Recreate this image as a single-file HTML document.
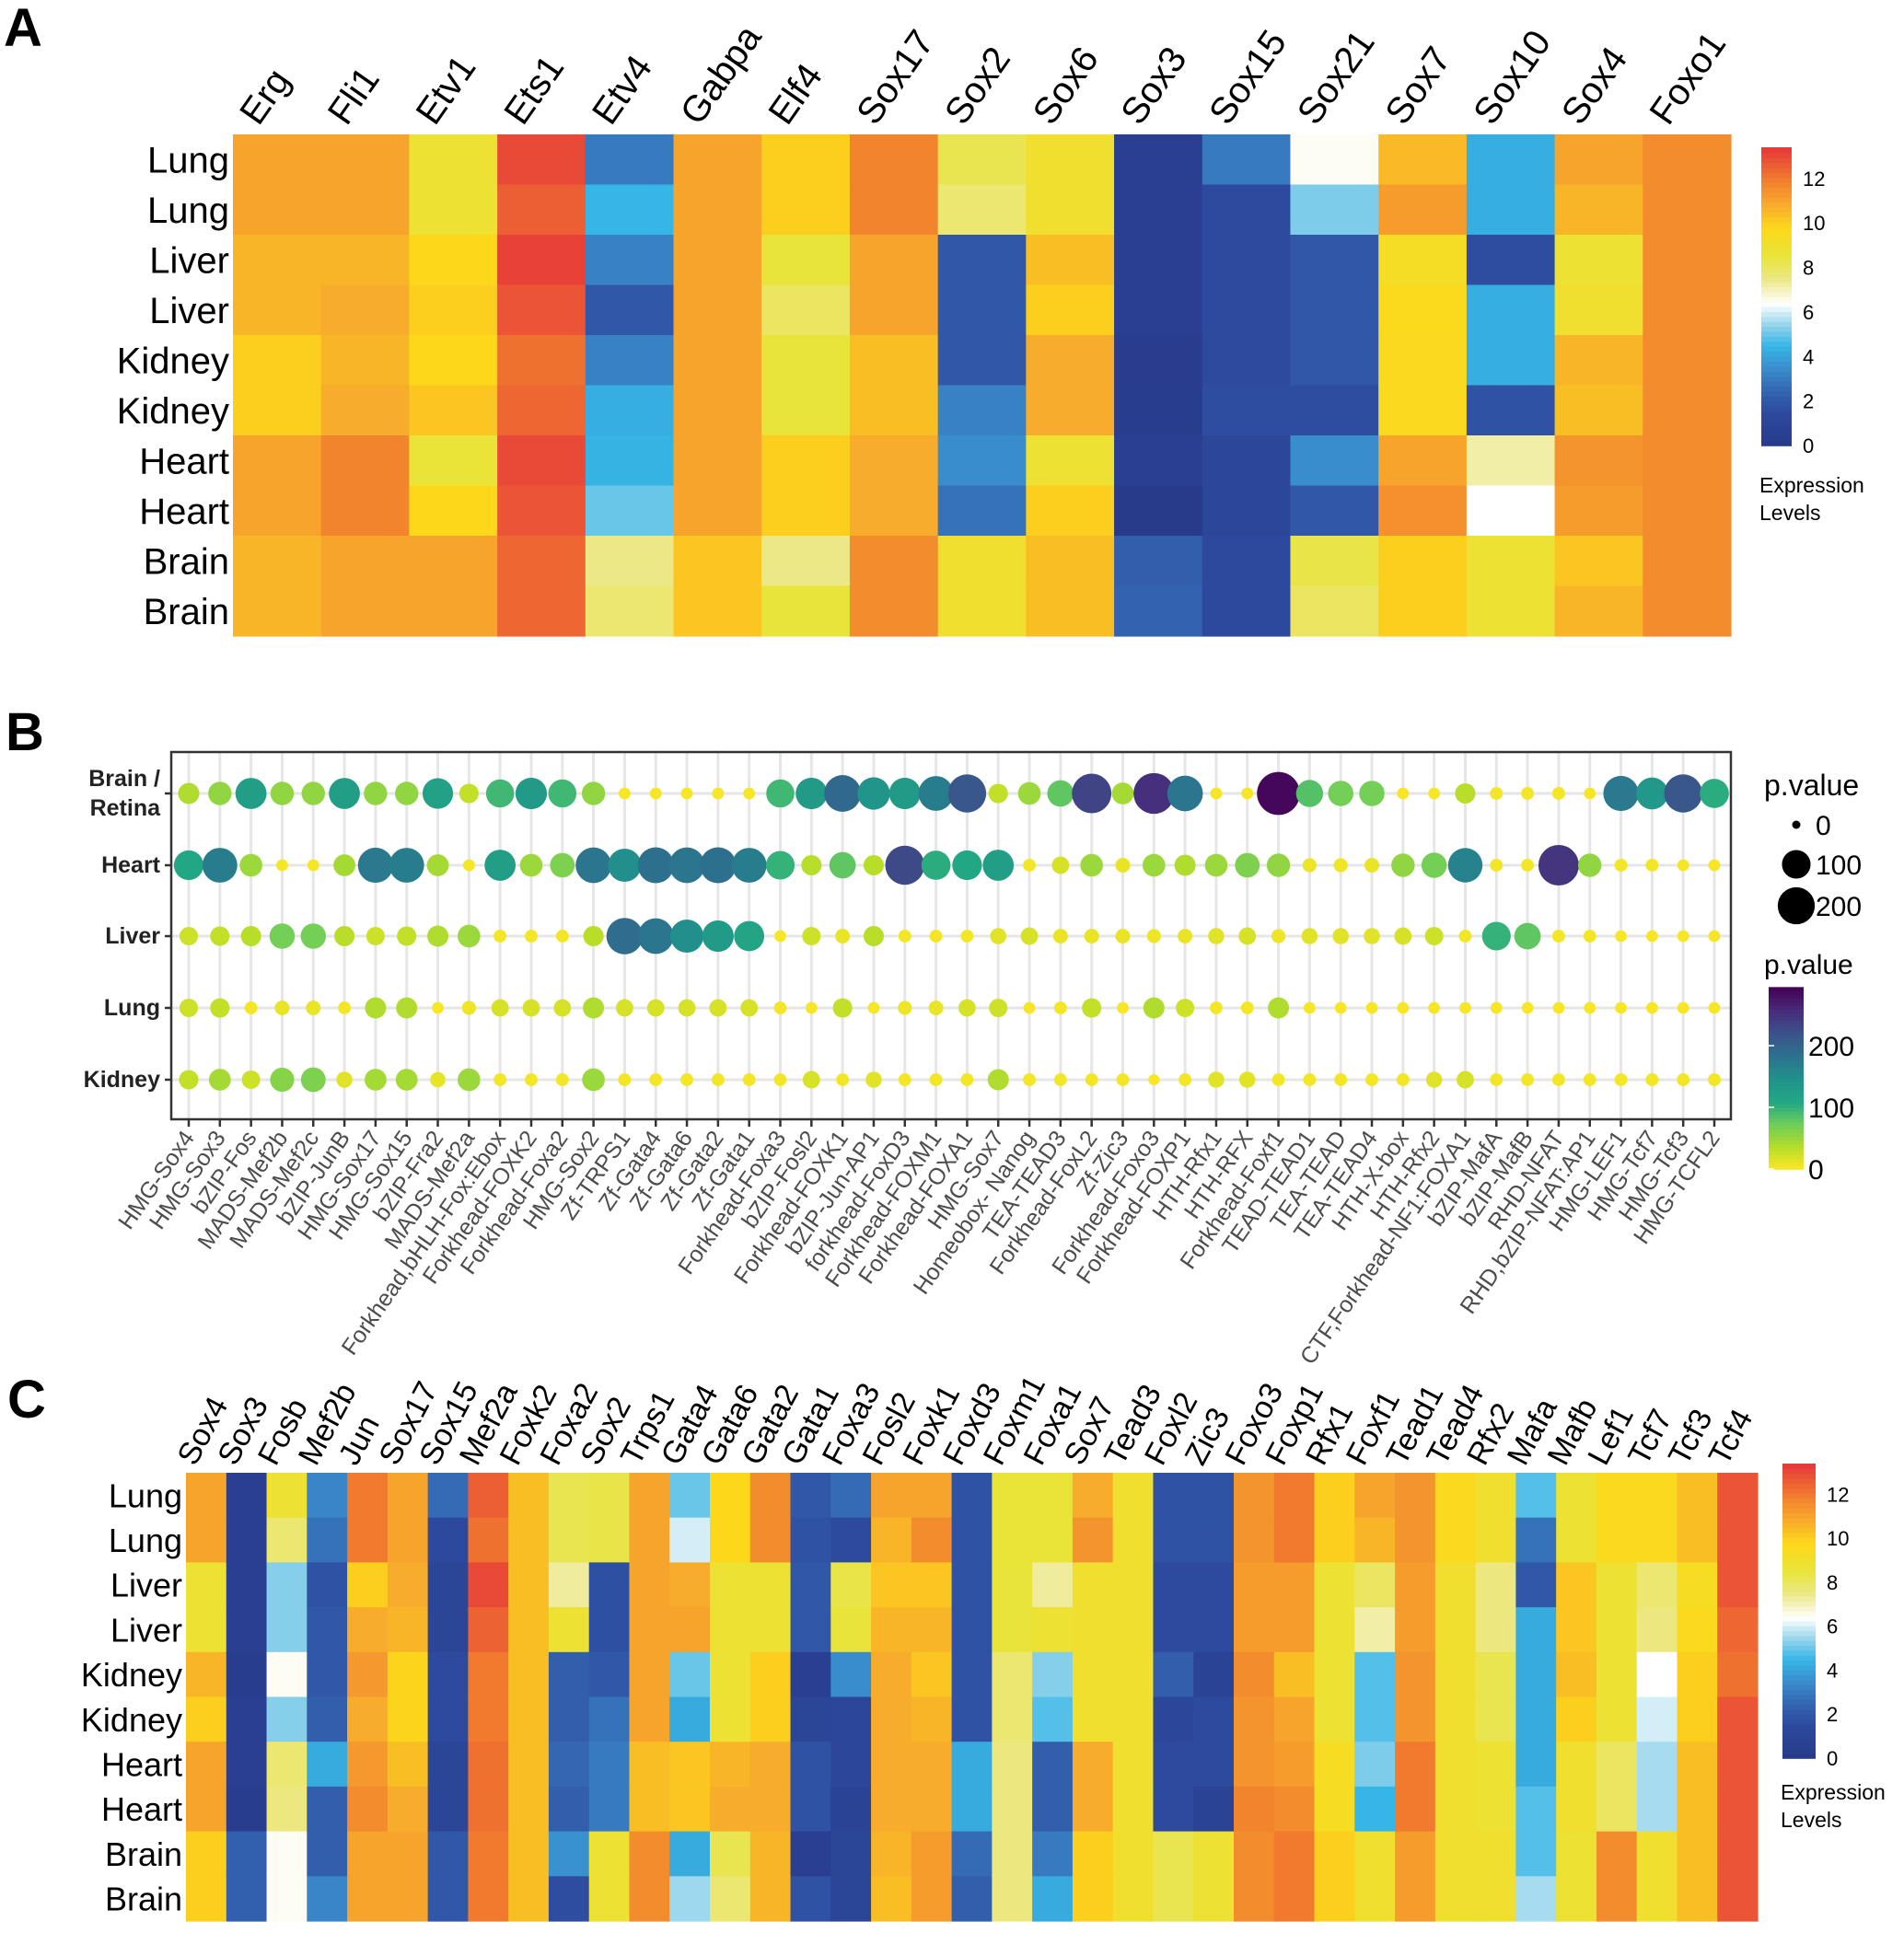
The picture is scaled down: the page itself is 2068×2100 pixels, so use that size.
<!DOCTYPE html>
<html><head><meta charset="utf-8"><style>
html,body{margin:0;padding:0;background:#fff;}
svg{display:block;font-family:"Liberation Sans",Arial,sans-serif;}
</style></head><body>
<svg id="fig" width="2068" height="2100" viewBox="0 0 2068 2100" xmlns="http://www.w3.org/2000/svg">
<rect x="0" y="0" width="2068" height="2100" fill="#fff"/>
<text x="4" y="50" font-size="58" font-weight="bold">A</text>
<text x="6" y="815" font-size="58" font-weight="bold">B</text>
<text x="8" y="1540" font-size="58" font-weight="bold">C</text>
<g id="panelA"></g>
<g id="panelB"></g>
<g id="panelC"></g>
</svg>
<script>
// ---------- Panel A data ----------
const rowsA = ["Lung","Lung","Liver","Liver","Kidney","Kidney","Heart","Heart","Brain","Brain"];
const colsA = ["Erg","Fli1","Etv1","Ets1","Etv4","Gabpa","Elf4","Sox17","Sox2","Sox6","Sox3","Sox15","Sox21","Sox7","Sox10","Sox4","Foxo1"];
const valuesA = [
[11,11,10.6,10.6,10,10,11,11,10.6,10.6],
[11,11,10.6,10.8,10.6,10.8,11.8,11.8,11,11],
[8.8,8.8,9.8,10,9.8,10.2,8.6,9.8,11,11],
[13,12.6,13.2,12.8,12.2,12.4,13,12.8,12.4,12.4],
[3,4.5,3.2,2,3.2,4.3,4.4,5,7.5,7.8],
[11,11,11,11,11,11,11,11,10.2,10.2],
[10,10,8.5,8,8.5,8.5,10,10,7.5,8.5],
[11.8,11.8,11,11,10.4,10.4,10.8,10.8,11.6,11.6],
[8.2,7.8,2,2,2,3.2,3.5,2.8,9,9],
[9,9,10.4,10,10.8,10.8,8.8,10,10.4,10.4],
[0.5,0.5,0.5,0.5,0.2,0.3,0.5,0.1,2.2,2.4],
[3,1.5,1.5,1.5,1.5,1.6,1.2,1.2,1.4,1.4],
[6.5,5.2,2,2,2,1.6,3.5,2,8.3,8],
[10.5,11.2,9.3,9.7,9.6,9.6,11,11.5,10,10],
[4.3,4.3,1.6,4.3,4.3,1.8,7.2,6.4,8.8,8.8],
[11,10.6,8.8,9,10.6,10.4,11.4,11.2,10.2,10.6],
[11.6,11.6,11.6,11.6,11.6,11.6,11.6,11.6,11.6,11.6]];
const ticksExpr = [0,2,4,6,8,10,12];

// ---------- Panel B data ----------
const rowsB = ["Brain /|Retina","Heart","Liver","Lung","Kidney"];
const motifsB = ["HMG-Sox4","HMG-Sox3","bZIP-Fos","MADS-Mef2b","MADS-Mef2c","bZIP-JunB","HMG-Sox17","HMG-Sox15","bZIP-Fra2","MADS-Mef2a","Forkhead,bHLH-Fox:Ebox","Forkhead-FOXK2","Forkhead-Foxa2","HMG-Sox2","Zf-TRPS1","Zf-Gata4","Zf-Gata6","Zf-Gata2","Zf-Gata1","Forkhead-Foxa3","bZIP-Fosl2","Forkhead-FOXK1","bZIP-Jun-AP1","forkhead-FoxD3","Forkhead-FOXM1","Forkhead-FOXA1","HMG-Sox7","Homeobox- Nanog","TEA-TEAD3","Forkhead-FoxL2","Zf-Zic3","Forkhead-Foxo3","Forkhead-FOXP1","HTH-Rfx1","HTH-RFX","Forkhead-Foxf1","TEAD-TEAD1","TEA-TEAD","TEA-TEAD4","HTH-X-box","HTH-Rfx2","CTF,Forkhead-NF1:FOXA1","bZIP-MafA","bZIP-MafB","RHD-NFAT","RHD,bZIP-NFAT:AP1","HMG-LEF1","HMG-Tcf7","HMG-Tcf3","HMG-TCFL2"];
const pBrain = [40,55,125,55,55,125,55,55,120,30,95,130,95,55,3,3,3,3,3,95,130,195,140,130,170,215,30,50,80,235,45,255,180,3,3,290,85,70,70,3,3,35,5,5,5,3,175,135,215,105];
const pHeart = [110,170,50,3,3,45,175,170,45,3,125,50,65,180,150,185,180,185,170,100,35,80,35,230,105,110,125,5,20,50,10,50,40,50,65,55,8,8,10,55,70,165,5,5,250,55,5,5,3,3];
const pLiver = [25,30,35,70,70,35,25,30,40,50,5,5,5,35,190,180,150,130,115,3,25,10,35,5,5,5,15,20,10,10,10,8,10,15,20,8,15,15,15,20,25,5,100,80,5,5,3,3,3,3];
const pLung = [25,30,5,10,10,5,40,40,3,8,20,20,20,40,20,20,20,20,20,5,3,30,3,8,10,20,25,3,5,30,3,40,25,5,5,40,3,3,3,3,3,3,3,3,3,3,3,3,3,3];
const pKidney = [30,45,25,60,65,15,45,45,12,50,5,5,5,50,5,5,5,5,5,5,20,5,15,5,5,5,40,5,5,5,5,2,5,15,15,5,5,5,5,5,15,20,5,5,5,5,5,5,5,5];
const sizeLegendVals = [0,100,200];
const colorTicksB = [0,100,200];

// ---------- Panel C data ----------
const rowsC = ["Lung","Lung","Liver","Liver","Kidney","Kidney","Heart","Heart","Brain","Brain"];
const colsC = ["Sox4","Sox3","Fosb","Mef2b","Jun","Sox17","Sox15","Mef2a","Foxk2","Foxa2","Sox2","Trps1","Gata4","Gata6","Gata2","Gata1","Foxa3","Fosl2","Foxk1","Foxd3","Foxm1","Foxa1","Sox7","Tead3","Foxl2","Zic3","Foxo3","Foxp1","Rfx1","Foxf1","Tead1","Tead4","Rfx2","Mafa","Mafb","Lef1","Tcf7","Tcf3","Tcf4"];
const valuesC = [
[11,11,8.8,8.8,10.6,10,11,11,10,10],
[0.5,0.5,0.5,0.5,0.3,0.5,0.5,0.3,2.3,2.3],
[8.8,7.8,5.3,5.3,6.5,5.3,7.8,7.6,6.5,6.5],
[3.3,2.8,1.8,2,2,2.2,4.2,2.2,2.2,3.3],
[12,12,10,10.8,11.3,10.8,11.3,11.6,11,11],
[11,11,10.8,10.6,9.9,9.9,10.4,10.8,11,11],
[2.6,1.4,1,1,1.5,1.5,1,1,2,2],
[12.6,12.2,13,12.5,12,12,12.2,12.2,12,12],
[10.4,10.4,10.4,10.4,10.4,10.4,10.4,10.4,10.4,10.4],
[8.2,8.2,7.3,8.8,2.2,2.2,2.5,2.2,3.6,1.6],
[8.3,8.3,1.7,1.7,2,2.8,3,3,8.8,8.8],
[11,11,11,11,11,11,10.4,10.4,11.6,11.6],
[5,6,10.8,11,5,4.2,10.2,10.2,4.2,5.5],
[9.8,9.8,8.8,8.8,8.8,8.8,10.6,10.8,8.2,7.8],
[11.6,11.6,8.8,8.8,10,10,10.8,10.8,10.6,10.6],
[2,1.8,2,2,0.5,1,1.8,1.8,0.5,1.8],
[2.6,1.5,8.3,8.5,3.5,1.2,1.2,0.8,1,1],
[11,10.6,10.2,10.6,10.8,10.8,10.8,10.8,10.6,10.4],
[11,11.6,10.2,10.6,10.2,10.6,10.8,10.8,11.2,11.2],
[1.8,1.8,1.8,1.8,1.8,1.8,4.2,4.2,2.6,2.2],
[8.6,8.6,8.5,8.5,7.8,7.8,7.6,7.6,7.6,7.6],
[8.6,8.6,7.3,8.8,5.3,4.8,2.2,2.2,3,4.2],
[10.8,11.4,9,9,9,9,10.8,10.8,10,10],
[9,9,9,9,9,9,9,9,9,9],
[1.8,1.8,1.5,1.5,2.2,1.2,1.5,1.5,8.2,8.2],
[1.8,1.8,1.5,1.5,0.8,1.5,1.5,0.8,8.8,8.8],
[11.4,11.4,11.2,11.2,11.6,11.4,11.4,11.8,11.6,11.6],
[12,12,11.2,11.2,10.4,11,11.2,11.6,12,12],
[10,10,8.8,8.8,8.8,8.8,9.4,9.4,10,10],
[11,10.6,8,7.2,4.8,4.8,5.2,4.5,9,9],
[11.4,11.4,11.2,11.2,11.4,11.4,12,12,11.2,11.2],
[9.6,9.6,9,9,9,9,9,9,9,9],
[9,9,7.6,7.6,8.2,8.2,8.8,8.8,9,9],
[4.8,2.8,2,4.2,4.2,4.2,4.2,4.8,4.8,5.6],
[8.8,8.8,10.2,10.2,10.4,10,9,9,8.8,8.8],
[9.6,9.6,8.8,8.8,8.8,8.8,8,8,11.6,11.6],
[9.6,9.6,7.8,7.6,6.4,6,5.6,5.6,9,9],
[10.4,10.4,9.4,9.6,10,10,10.4,10.4,10.4,10.4],
[12.8,12.8,12.8,12.4,12.2,12.8,12.8,12.8,12.8,12.8]];

// ---------- helpers ----------
const NS = "http://www.w3.org/2000/svg";
function mk(tag, attrs, parent){const e=document.createElementNS(NS,tag);for(const k in attrs)e.setAttribute(k,attrs[k]);parent.appendChild(e);return e;}
function hex(h){return [parseInt(h.slice(1,3),16),parseInt(h.slice(3,5),16),parseInt(h.slice(5,7),16)];}
function interp(stops,v){
  if(v<=stops[0][0])return stops[0][1];
  for(let i=1;i<stops.length;i++){if(v<=stops[i][0]){const a=stops[i-1],b=stops[i];const t=(v-a[0])/(b[0]-a[0]);const ca=hex(a[1]),cb=hex(b[1]);return "rgb("+ca.map((c,j)=>Math.round(c+(cb[j]-c)*t)).join(",")+")";}}
  return stops[stops.length-1][1];
}
const exprStops=[[0,"#283a8a"],[1.5,"#2d4a9e"],[2.5,"#3466b2"],[3.5,"#3a8dcc"],[4.5,"#36b6e6"],[5.3,"#86cfea"],[6.4,"#ffffff"],[7.5,"#ece887"],[8.5,"#e8e43a"],[9.8,"#fdd81a"],[10.8,"#f8ac2c"],[11.8,"#f2842d"],[13.4,"#e6373a"]];
function expColor(v){return interp(exprStops,v);}
const virStops=[[0,"#fde725"],[0.12,"#b8de29"],[0.25,"#6ccd5a"],[0.37,"#22a884"],[0.5,"#21918c"],[0.62,"#2c728e"],[0.75,"#3b528b"],[0.87,"#472d7b"],[1,"#440154"]];
const PMAX=295;
function vir(v){return interp(virStops,Math.min(1,v/PMAX));}
function rad(v){return 4.5+19*Math.sqrt(Math.max(0,v)/PMAX);}

// ---------- heatmap builder ----------
function heatmap(g, rows, cols, vals, box, rowFont, colFont, colAngle, colDx, colY, cbar, prefix){
  const cw=(box.x1-box.x0)/cols.length, rh=(box.y1-box.y0)/rows.length;
  const xS=i=>box.x0+i*cw, yS=j=>box.y0+j*rh;
  cols.forEach((c,i)=>{
    vals[i].forEach((v,j)=>{
      const r=mk("rect",{x:xS(i).toFixed(2),y:yS(j).toFixed(2),width:(cw+0.6).toFixed(2),height:(rh+0.6).toFixed(2),fill:expColor(v)},g);
      
      
    });
    const cx=xS(i)+cw/2+colDx;
    const t=mk("text",{x:cx,y:colY,"font-size":colFont,transform:`rotate(${colAngle} ${cx} ${colY})`},g);
    t.textContent=c;
    
    
  });
  rows.forEach((r,j)=>{
    const t=mk("text",{x:box.x0-4,y:yS(j)+rh/2+rowFont*0.36,"font-size":rowFont,"text-anchor":"end"},g);
    t.textContent=r;
    
    
  });
  const vmax=13.4;
  const cy=v=>cbar.y0+(cbar.y1-cbar.y0)*(1-v/vmax);
  const n=60;
  for(let k=0;k<n;k++){
    const v0=vmax*k/n, v1=vmax*(k+1)/n;
    const r=mk("rect",{x:cbar.x0,y:cy(v1).toFixed(2),width:cbar.x1-cbar.x0,height:(cy(v0)-cy(v1)+0.8).toFixed(2),fill:expColor((v0+v1)/2)},g);
    
    
  }
  ticksExpr.forEach(tv=>{
    const t=mk("text",{x:cbar.x1+12,y:cy(tv)+8,"font-size":22},g);
    t.textContent=tv;
    
    
  });
  const l1=mk("text",{x:cbar.x0-2,y:cbar.ly,"font-size":23},g);l1.textContent="Expression";
  
  
  const l2=mk("text",{x:cbar.x0-2,y:cbar.ly+30,"font-size":23},g);l2.textContent="Levels";
  
  
}

heatmap(document.getElementById("panelA"),rowsA,colsA,valuesA,{x0:253,x1:1880,y0:146,y1:691},40,40,-55,-20,138,{x0:1913,x1:1946,y0:160,y1:484,ly:535},"a");
heatmap(document.getElementById("panelC"),rowsC,colsC,valuesC,{x0:202,x1:1909,y0:1600,y1:2087},36,34,-62,-12,1594,{x0:1936,x1:1972,y0:1590,y1:1910,ly:1955},"c");

// ---------- Panel B ----------
(function(){
  const g=document.getElementById("panelB");
  const box={x0:186,x1:1880,y0:817,y1:1216};
  const x0=205, dx=(1862-205)/(motifsB.length-1);
  const xS=i=>x0+i*dx;
  const rowY=[862,940,1017,1095,1173];
  const yS=j=>rowY[j];
  const series=[pBrain,pHeart,pLiver,pLung,pKidney];
  const bg=mk("rect",{x:box.x0,y:box.y0,width:box.x1-box.x0,height:box.y1-box.y0,fill:"#fff"},g);
  
  
  motifsB.forEach((m,i)=>{
    const l=mk("line",{x1:xS(i),x2:xS(i),y1:box.y0,y2:box.y1,stroke:"#e6e6e6","stroke-width":3},g);
    
    
  });
  rowsB.forEach((r,j)=>{
    const l=mk("line",{x1:box.x0,x2:box.x1,y1:yS(j),y2:yS(j),stroke:"#e6e6e6","stroke-width":3},g);
    
    
  });
  series.forEach((s,j)=>{
    s.forEach((v,i)=>{
      const c=mk("circle",{cx:xS(i).toFixed(2),cy:yS(j),r:rad(v).toFixed(2),fill:vir(v)},g);
      
      
    });
  });
  const frame=mk("rect",{x:box.x0,y:box.y0,width:box.x1-box.x0,height:box.y1-box.y0,fill:"none",stroke:"#333","stroke-width":2.5},g);
  
  
  rowsB.forEach((r,j)=>{
    const tk=mk("line",{x1:box.x0-7,x2:box.x0,y1:yS(j),y2:yS(j),stroke:"#333","stroke-width":2.5},g);
    
    
    const parts=r.split("|");
    parts.forEach((p,k)=>{
      const t=mk("text",{x:box.x0-12,y:yS(j)+8+(k-(parts.length-1)/2)*32,"font-size":25,"font-weight":"bold","text-anchor":"end",fill:"#222"},g);
      t.textContent=p;
      
      
    });
  });
  motifsB.forEach((m,i)=>{
    const tk=mk("line",{x1:xS(i),x2:xS(i),y1:box.y1,y2:box.y1+8,stroke:"#333","stroke-width":2.5},g);
    
    
    const tx=xS(i)+7, ty=box.y1+20;
    const t=mk("text",{x:tx,y:ty,"font-size":25,"text-anchor":"end",fill:"#4d4d4d",transform:`rotate(-55 ${tx} ${ty})`},g);
    t.textContent=m;
    
    
  });
  const st=mk("text",{x:1916,y:864,"font-size":32},g);st.textContent="p.value";
  
  
  const legY=[896,939,984];
  sizeLegendVals.forEach((v,k)=>{
    const c=mk("circle",{cx:1951,cy:legY[k],r:rad(v).toFixed(2),fill:"#000"},g);
    
    
    const t=mk("text",{x:1972,y:legY[k]+11,"font-size":30},g);t.textContent=v;
    
    
  });
  const ct=mk("text",{x:1916,y:1058,"font-size":30},g);ct.textContent="p.value";
  
  
  const cb={x0:1921,x1:1959};
  const cyB=v=>1270-v*0.67;
  const n=50;
  for(let k=0;k<n;k++){
    const v0=PMAX*k/n,v1=PMAX*(k+1)/n;
    const r=mk("rect",{x:cb.x0,y:cyB(v1).toFixed(2),width:cb.x1-cb.x0,height:(cyB(v0)-cyB(v1)+0.8).toFixed(2),fill:vir((v0+v1)/2)},g);
    
    
  }
  colorTicksB.forEach(v=>{
    const l=mk("line",{x1:cb.x0,x2:cb.x0+6,y1:cyB(v),y2:cyB(v),stroke:"#fff","stroke-width":1.5},g);
    
    
    const t=mk("text",{x:1964,y:cyB(v)+11,"font-size":30},g);t.textContent=v;
    
    
  });
})();
</script>
</body></html>
